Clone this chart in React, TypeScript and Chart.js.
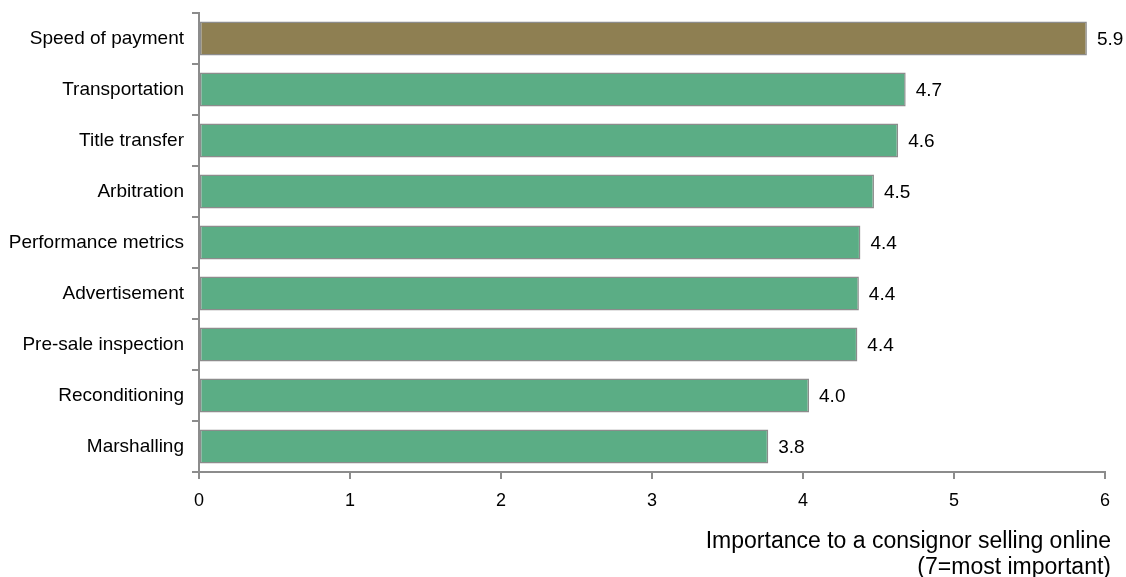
import React, { useEffect, useRef } from "react";
import { Chart, registerables } from "chart.js";

Chart.register(...registerables);

const categories: string[] = [
  "Speed of payment",
  "Transportation",
  "Title transfer",
  "Arbitration",
  "Performance metrics",
  "Advertisement",
  "Pre-sale inspection",
  "Reconditioning",
  "Marshalling",
];

const importance: number[] = [5.88, 4.68, 4.63, 4.47, 4.38, 4.37, 4.36, 4.04, 3.77];

const axisTitleLines: string[] = [
  "Importance to a consignor selling online",
  "(7=most important)",
];

const HIGHLIGHT = "#8E7F52";
const BASE = "#5BAD85";
const LINE = "#8C8C8C";
const FONT = "'Liberation Sans', Arial, Helvetica, sans-serif";

// Writes each bar's value (one decimal) just past its end.
const valueLabels = {
  id: "valueLabels",
  afterDatasetsDraw(chart: Chart) {
    const { ctx } = chart;
    const meta = chart.getDatasetMeta(0);
    const data = chart.data.datasets[0].data as number[];
    ctx.save();
    ctx.font = `19px ${FONT}`;
    ctx.fillStyle = "#000";
    ctx.textAlign = "left";
    ctx.textBaseline = "middle";
    meta.data.forEach((bar: any, i: number) => {
      ctx.fillText(data[i].toFixed(1), bar.x + 10, bar.y + 1);
    });
    ctx.restore();
  },
};

// Two-line, right-aligned axis title under the value axis.
const axisTitle = {
  id: "axisTitle",
  afterDraw(chart: Chart) {
    const { ctx } = chart;
    ctx.save();
    ctx.font = `23px ${FONT}`;
    ctx.fillStyle = "#000";
    ctx.textAlign = "right";
    ctx.textBaseline = "middle";
    const right = chart.chartArea.right + 6;
    axisTitleLines.forEach((line, i) => {
      ctx.fillText(line, right, 542 + i * 26);
    });
    ctx.restore();
  },
};

export default function App() {
  const canvasRef = useRef<HTMLCanvasElement | null>(null);

  useEffect(() => {
    document.body.style.margin = "0";
    const canvas = canvasRef.current;
    if (!canvas) return;
    const chart = new Chart(canvas, {
      type: "bar",
      data: {
        labels: categories,
        datasets: [
          {
            data: importance,
            backgroundColor: importance.map((_, i) => (i === 0 ? HIGHLIGHT : BASE)),
            borderColor: LINE,
            borderWidth: 1.5,
            borderSkipped: false,
            categoryPercentage: 1,
            barPercentage: 0.67,
          },
        ],
      },
      options: {
        indexAxis: "y",
        responsive: false,
        maintainAspectRatio: false,
        animation: false,
        layout: { padding: { top: 13, right: 21, left: 0, bottom: 0 } },
        plugins: {
          legend: { display: false },
          tooltip: { enabled: false },
          title: { display: false },
        },
        scales: {
          x: {
            type: "linear",
            min: 0,
            max: 6,
            ticks: {
              stepSize: 1,
              color: "#000",
              font: { family: FONT, size: 18 },
              padding: 11,
            },
            grid: {
              drawOnChartArea: false,
              drawTicks: true,
              tickLength: 7,
              color: LINE,
              lineWidth: 2,
            },
            border: { display: true, color: LINE, width: 2 },
            afterFit(scale: any) {
              scale.height = 105;
            },
          },
          y: {
            type: "category",
            ticks: {
              color: "#000",
              font: { family: FONT, size: 19 },
              padding: 8,
            },
            grid: {
              offset: true,
              drawOnChartArea: false,
              drawTicks: true,
              tickLength: 7,
              color: LINE,
              lineWidth: 2,
            },
            border: { display: true, color: LINE, width: 2 },
            afterFit(scale: any) {
              scale.width = 199;
              scale.paddingTop = 0;
              scale.paddingBottom = 0;
            },
          },
        },
      },
      plugins: [valueLabels, axisTitle],
    });
    return () => chart.destroy();
  }, []);

  return (
    <div style={{ position: "absolute", left: 0, top: 0, width: 1126, height: 577, background: "#fff" }}>
      <canvas ref={canvasRef} width={1126} height={577} style={{ display: "block" }} />
    </div>
  );
}
